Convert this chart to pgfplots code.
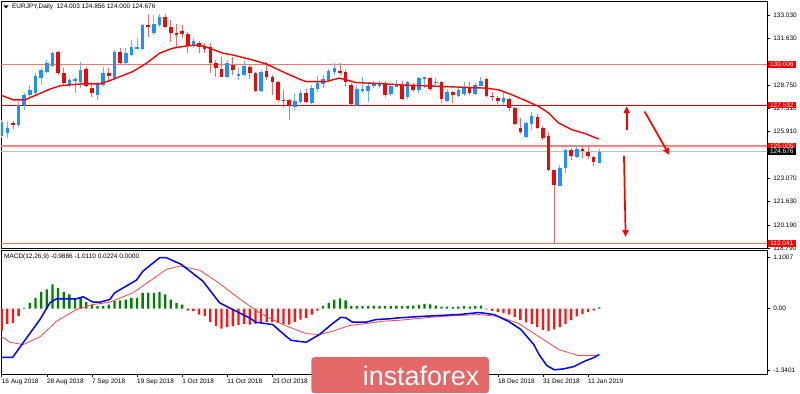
\documentclass[border=0pt]{standalone}
\usepackage{fontspec}
\setmainfont{Liberation Sans}
\usepackage{pgfplots}
\pgfplotsset{compat=1.18}
\usepackage{pgfplotstable}
\usetikzlibrary{arrows.meta}

\definecolor{bull}{RGB}{30,144,255}
\definecolor{bear}{RGB}{230,10,10}
\definecolor{bullwick}{RGB}{110,175,255}
\definecolor{bearwick}{RGB}{232,110,110}
\definecolor{macdgreen}{RGB}{0,128,0}
\definecolor{macdred}{RGB}{255,20,20}
\definecolor{sigred}{RGB}{245,70,70}
\definecolor{wmark}{RGB}{228,104,104}

% bullish candles: index open high low close
\pgfplotstableread{
i o h l c
0 125.65 126.62 125.52 126.50
1 125.81 126.52 125.51 126.15
3 126.32 127.74 126.21 127.54
4 127.54 128.29 127.23 128.15
5 128.15 128.76 127.95 128.45
6 128.29 129.51 128.15 129.31
7 129.17 129.78 128.76 129.68
8 129.57 130.29 129.51 130.08
9 129.92 130.79 129.88 130.73
12 128.76 129.17 128.62 129.07
13 128.99 129.27 128.29 129.11
14 128.96 130.18 128.56 129.68
17 128.15 128.96 127.84 128.82
18 128.76 129.84 128.66 129.47
20 129.17 130.90 129.07 130.79
22 130.12 131.00 130.04 130.70
23 130.59 131.51 130.53 131.06
24 130.98 131.61 130.94 131.06
25 130.94 132.48 130.90 132.42
27 131.92 133.03 131.81 132.48
28 132.42 133.10 132.32 132.89
34 131.20 131.61 131.00 131.46
40 129.27 130.29 129.17 130.08
42 129.35 129.78 129.07 129.43
43 129.37 130.24 129.31 129.92
46 128.41 129.68 128.35 129.57
52 127.40 128.25 127.23 127.80
53 127.68 128.45 127.64 128.29
55 127.68 128.76 127.60 128.56
56 128.50 129.31 128.35 128.90
57 128.82 129.37 128.56 129.11
58 129.07 129.72 128.96 129.63
59 129.57 130.12 129.37 129.76
63 127.54 128.76 127.48 128.50
64 128.41 129.23 128.25 128.50
65 128.41 128.96 127.74 128.70
66 128.66 129.02 128.56 128.86
67 128.66 129.02 128.56 128.90
69 128.21 128.82 128.05 128.70
70 128.66 129.07 128.62 128.76
72 128.01 129.02 127.89 128.93
74 128.45 129.27 128.25 129.17
75 129.13 129.27 128.56 129.23
77 128.86 129.17 128.76 128.96
79 127.80 128.50 127.68 128.35
81 128.09 128.56 128.01 128.45
82 128.21 128.96 128.09 128.62
84 128.21 128.86 128.15 128.76
85 128.70 129.23 128.66 129.02
89 127.74 128.35 127.54 127.95
93 125.57 126.46 125.51 126.42
94 126.38 127.07 125.97 126.87
99 122.59 123.87 122.55 123.67
100 123.67 124.83 123.37 124.75
102 124.35 125.10 124.28 124.83
106 124.003 124.856 124.000 124.676
}\bulltab

% bearish candles
\pgfplotstableread{
i o h l c
2 126.42 126.52 126.05 126.34
10 130.79 130.85 129.37 129.51
11 129.51 129.78 128.76 128.90
15 129.72 129.84 128.62 128.70
16 128.56 128.96 128.01 128.25
19 129.51 129.78 128.96 129.31
21 130.79 131.00 130.04 130.12
26 132.42 133.10 131.71 132.28
29 132.89 133.10 132.22 132.32
30 132.32 132.73 131.40 131.95
31 131.92 132.48 131.10 131.87
32 132.07 132.42 131.61 131.87
33 131.87 132.01 130.70 131.20
35 131.31 131.46 130.70 131.10
36 131.14 131.31 130.70 130.94
37 131.06 131.31 129.47 130.08
38 130.08 130.29 129.27 129.78
39 129.72 130.49 129.23 129.27
41 129.98 130.49 129.37 129.68
44 129.84 129.98 129.11 129.51
45 129.51 129.57 128.35 128.41
47 129.61 130.18 129.07 129.23
48 129.27 129.37 128.15 128.96
49 128.96 129.02 127.74 127.84
50 127.84 128.45 127.43 127.77
51 127.84 127.89 126.62 127.54
54 128.29 128.50 127.64 127.74
60 129.61 130.12 129.37 129.54
61 129.57 129.68 128.66 128.96
62 128.76 128.90 127.54 127.60
68 128.86 129.02 128.01 128.15
71 128.73 129.00 127.81 127.90
73 128.70 128.86 128.35 128.45
76 129.17 129.27 128.41 128.50
78 128.96 129.02 127.64 127.89
80 128.35 128.41 127.64 128.15
83 128.62 128.96 128.15 128.25
86 129.11 129.17 128.01 128.09
87 128.09 128.35 127.80 128.01
88 127.95 128.09 127.60 127.80
90 127.89 127.95 127.13 127.34
91 127.34 127.40 126.32 126.38
92 126.12 126.73 125.77 125.85
95 126.82 126.99 126.05 126.12
96 126.12 126.26 125.36 125.51
97 125.65 125.85 123.47 123.53
98 123.53 123.57 119.04 122.65
101 124.75 124.89 124.14 124.38
103 124.83 125.10 124.28 124.69
104 124.63 124.96 124.22 124.42
105 124.35 124.42 123.77 124.02
}\beartab

% moving average
\pgfplotstableread{
i p
-0.3 128.15
2.05 127.84
4.12 127.84
5.54 128.05
8.55 128.50
10.32 128.70
12.09 128.76
14.39 128.82
17.40 128.82
19.17 129.02
23.24 129.57
25.66 130.08
28.02 130.70
30.32 131.00
32.74 131.14
35.10 131.20
36.87 131.00
39.17 130.70
40.94 130.59
43.95 130.33
46.90 130.04
49.79 129.57
52.80 129.11
53.98 128.96
57.52 128.96
59.88 129.17
61.06 129.07
62.83 128.90
68.14 128.82
70.50 128.76
78.11 128.66
85.84 128.56
88.19 128.45
90.50 128.15
92.92 127.80
95.27 127.43
97.04 127.03
98.81 126.42
101.17 126.01
103.54 125.77
105.89 125.44
}\matab

% MACD main line
\pgfplotstableread{
i v
0 -1.052
1.95 -1.052
4.42 -0.633
6.78 -0.238
8.55 0.123
9.73 0.210
13.27 0.210
14.44 0.253
16.21 0.136
17.40 0.136
19.17 0.194
20.05 0.339
23.89 0.611
25.06 0.806
28.02 1.095
29.20 1.095
31.86 0.950
35.68 0.590
38.64 0.123
40.99 -0.022
43.95 -0.201
45.13 -0.296
48.07 -0.346
50.44 -0.598
51.33 -0.685
53.98 -0.728
56.34 -0.562
58.69 -0.324
60.18 -0.188
61.06 -0.201
62.23 -0.296
64.60 -0.296
66.37 -0.238
68.73 -0.222
70.50 -0.201
74.04 -0.173
77.58 -0.151
81.11 -0.130
84.65 -0.086
87.31 -0.130
89.96 -0.281
92.09 -0.454
94.39 -0.778
95.3 -0.99
96.7 -1.23
98.0 -1.32
99.7 -1.30
101.5 -1.25
103.3 -1.14
105.0 -1.06
106 -0.9886
}\macdtab

% MACD signal line
\pgfplotstableread{
i v
-0.3 -0.583
1.47 -0.728
3.82 -0.778
6.78 -0.611
9.73 -0.274
13.27 -0.022
16.21 0.086
19.17 0.136
23.29 0.339
26.25 0.590
29.20 0.842
31.56 0.914
35.10 0.827
38.05 0.590
42.18 0.210
45.72 -0.093
49.84 -0.346
53.98 -0.540
56.34 -0.562
58.69 -0.490
61.65 -0.367
64.60 -0.324
67.54 -0.274
70.50 -0.253
77.58 -0.173
84.65 -0.130
88.19 -0.173
91.73 -0.324
95.27 -0.605
98.81 -0.886
102.35 -1.015
106 -1.011
}\sigtab

% histogram, positive part
\pgfplotstableread{
i v
4 0.014
5 0.122
6 0.230
7 0.360
8 0.410
9 0.518
10 0.446
11 0.360
12 0.302
13 0.230
14 0.245
15 0.144
16 0.086
17 0.050
18 0.050
19 0.086
20 0.158
21 0.173
22 0.194
23 0.230
24 0.230
25 0.338
26 0.338
27 0.338
28 0.360
29 0.302
30 0.194
31 0.122
32 0.086
57 0.050
58 0.122
59 0.194
60 0.216
61 0.173
62 0.050
63 0.050
64 0.050
65 0.050
66 0.055
67 0.050
68 0.055
69 0.050
70 0.055
71 0.050
72 0.050
73 0.060
74 0.080
75 0.100
76 0.090
77 0.060
78 0.040
79 0.040
80 0.030
81 0.040
82 0.050
83 0.040
84 0.050
85 0.060
106 0.0224
}\hpos

% histogram, negative part
\pgfplotstableread{
i v
0 -0.475
1 -0.331
2 -0.310
3 -0.166
33 -0.043
34 -0.058
35 -0.130
36 -0.166
37 -0.288
38 -0.382
39 -0.432
40 -0.403
41 -0.382
42 -0.360
43 -0.331
44 -0.346
45 -0.331
46 -0.288
47 -0.288
48 -0.288
49 -0.310
50 -0.331
51 -0.346
52 -0.288
53 -0.238
54 -0.202
55 -0.130
56 -0.043
86 -0.020
87 -0.050
88 -0.080
89 -0.100
90 -0.130
91 -0.180
92 -0.250
93 -0.300
94 -0.330
95 -0.400
96 -0.460
97 -0.480
98 -0.450
99 -0.400
100 -0.330
101 -0.250
102 -0.170
103 -0.120
104 -0.070
105 -0.040
}\hneg

\pgfplotsset{
  candlewick/.style={draw=none, mark=none, forget plot,
    error bars/.cd, y dir=both, y explicit, error mark=none,
    error bar style={draw=#1, line width=0.9bp}},
  candlebody/.style={draw=none, mark=none, forget plot,
    error bars/.cd, y dir=both, y explicit, error mark=none,
    error bar style={draw=#1, line width=3.6bp}},
  mtaxis/.style={scale only axis, width=768bp, xmin=-0.124, xmax=135.8,
    axis line style={black, line width=0.6bp},
    tick align=outside, major tick length=2.5bp,
    tick style={black, line width=0.5bp},
    ytick pos=right, yticklabel pos=right,
    every tick label/.append style={font=\fontsize{6.5}{7.5}\selectfont},
    clip mode=individual},
}

\begin{document}
\begin{tikzpicture}
\path[fill=white] (0bp,0bp) rectangle (800bp,394bp);

\begin{axis}[mtaxis, at={(1bp,393bp)}, anchor=north west, height=248bp,
  ymin=118.75, ymax=133.89, xtick=\empty,
  ytick={118.790,120.190,121.630,123.070,125.910,127.310,128.750,131.630,133.030},
  yticklabel style={/pgf/number format/.cd, fixed, fixed zerofill, precision=3, assume math mode=true}]
  % horizontal levels
  \addplot[color=red!55, line width=1bp] coordinates {(-1,130.006) (137,130.006)};
  \addplot[color=red!90!black, line width=0.8bp] coordinates {(-1,127.532) (137,127.532)};
  \addplot[color=red!50, line width=1.8bp] coordinates {(-1,125.005) (137,125.005)};
  \addplot[color=black!25, line width=1bp] coordinates {(-1,124.676) (137,124.676)};
  \addplot[color=red!60, line width=1.3bp] coordinates {(-1,119.041) (137,119.041)};
  % candles
  \addplot[candlewick=bullwick] table[x=i, y expr={(\thisrow{h}+\thisrow{l})/2}, y error expr={(\thisrow{h}-\thisrow{l})/2}] {\bulltab};
  \addplot[candlewick=bearwick] table[x=i, y expr={(\thisrow{h}+\thisrow{l})/2}, y error expr={(\thisrow{h}-\thisrow{l})/2}] {\beartab};
  \addplot[candlebody=bull] table[x=i, y expr={(\thisrow{o}+\thisrow{c})/2}, y error expr={abs(\thisrow{c}-\thisrow{o})/2}] {\bulltab};
  \addplot[candlebody=bear] table[x=i, y expr={(\thisrow{o}+\thisrow{c})/2}, y error expr={abs(\thisrow{c}-\thisrow{o})/2}] {\beartab};
  % moving average
  \addplot[color=red, line width=1.4bp, line join=round] table[x=i, y=p] {\matab};
  % arrows
  \draw[red, line width=1.7bp, -{Triangle[length=7bp,width=6bp]}] (axis cs:110.85,125.97) -- (axis cs:110.85,127.45);
  \draw[red, line width=1.7bp, -{Triangle[length=7bp,width=6bp]}] (axis cs:114.04,127.13) -- (axis cs:118.41,124.47);
  \draw[red, line width=1.7bp, -{Triangle[length=7bp,width=6bp]}] (axis cs:110.37,124.42) -- (axis cs:110.67,119.45);
  \coordinate (b1) at (axis cs:135.85,130.006);
  \coordinate (b2) at (axis cs:135.85,127.532);
  \coordinate (b3) at (axis cs:135.85,125.005);
  \coordinate (b4) at (axis cs:135.85,124.676);
  \coordinate (b5) at (axis cs:135.85,119.041);
\end{axis}

\begin{axis}[mtaxis, at={(1bp,143bp)}, anchor=north west, height=124bp,
  ymin=-1.415, ymax=1.251,
  xtick={0,8,...,104},
  xticklabels={16 Aug 2018,28 Aug 2018,7 Sep 2018,19 Sep 2018,1 Oct 2018,11 Oct 2018,23 Oct 2018,,,,,18 Dec 2018,31 Dec 2018,11 Jan 2019},
  xtick pos=bottom,
  xticklabel style={anchor=north west, inner xsep=0pt, inner ysep=2bp},
  ytick={-1.3401,0,1.1007}, yticklabels={-1.3401,0.00,1.1007}]
  \addplot[ybar, bar width=2.3bp, bar shift=0pt, fill=macdgreen, draw=none] table[x=i, y=v] {\hpos};
  \addplot[ybar, bar width=2.3bp, bar shift=0pt, fill=macdred, draw=none] table[x=i, y=v] {\hneg};
  \addplot[color=sigred, line width=0.8bp, line join=round] table[x=i, y=v] {\sigtab};
  \addplot[color=blue, line width=1.5bp, line join=round] table[x=i, y=v] {\macdtab};
\end{axis}

% price boxes
\tikzset{pbox/.style={anchor=west, fill=#1, text=white, font=\fontsize{6.5}{7}\selectfont,
  inner xsep=1.5bp, inner ysep=0pt, minimum width=28bp, minimum height=6.8bp, align=left}}
\node[pbox=red] at (b1) {130.006};
\node[pbox=red] at (b2) {127.532};
\node[pbox=red] at (b3) {125.005};
\node[pbox=black] at (b4) {124.676};
\node[pbox=red] at (b5) {119.041};

\begin{scope}[x=1bp, y=1bp]
% titles
\fill[black] (3.5,388.5) -- (8.5,388.5) -- (6,385.5) -- cycle;
\node[anchor=west, inner sep=0pt, font=\fontsize{6.5}{7.5}\selectfont] at (12,387) {EURJPY,Daily\ \ 124.003 124.856 124.000 124.676};
\node[anchor=west, inner sep=0pt, font=\fontsize{6.5}{7.5}\selectfont] at (4,137) {MACD(12,26,9) -0.9886 -1.0110 0.0224 0.0000};
% watermark
\fill[wmark, rounded corners=3bp] (312,0) rectangle (490,36);
\node[text=white, font=\fontsize{27}{30}\selectfont, anchor=base] at (422,8) {instaforex};
\end{scope}
\end{tikzpicture}
\end{document}
